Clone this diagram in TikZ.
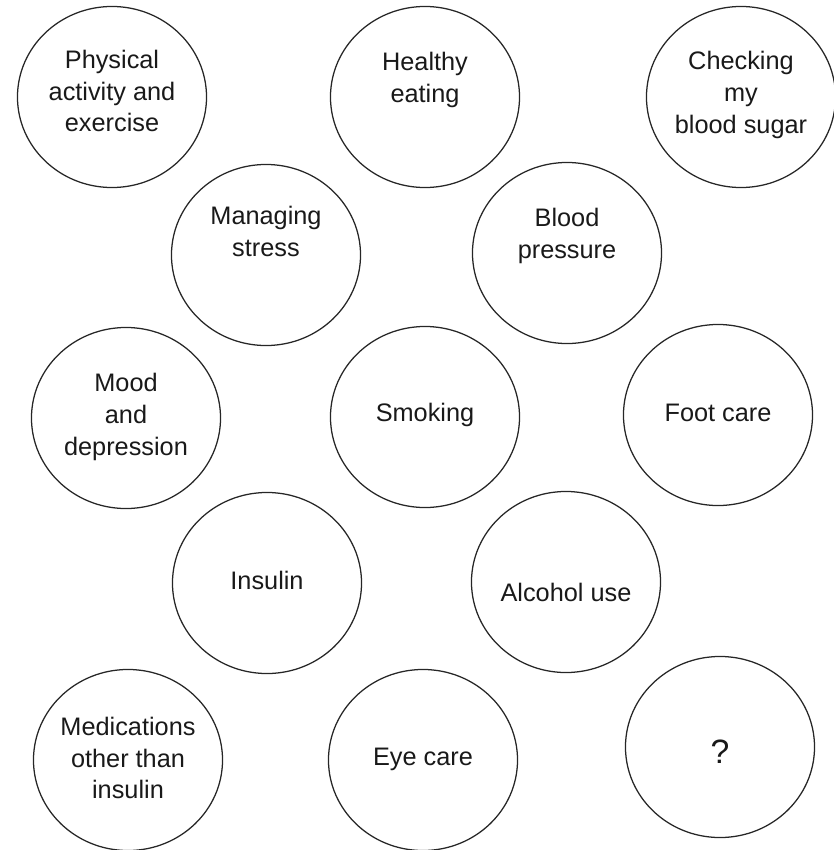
\documentclass[tikz,border=0pt]{standalone}
\usepackage{fontspec}
\setmainfont{Liberation Sans}
\usetikzlibrary{shapes.geometric, positioning}

\begin{document}
\begin{tikzpicture}[
    x=0.025cm, y=-0.025cm,
    topic/.style={ellipse, minimum width=4.725cm, minimum height=4.525cm, draw=black!85, line width=0.9pt, inner sep=0pt},
    topictext/.style={align=center, text=black!90, font=\fontsize{18}{22.7}\selectfont}
]
    \useasboundingbox (0,0) rectangle (834,850);

    % Row 1
    \node[topic] (activity) at (112, 97) {};
    \node[topictext] (activity_t) at (112, 91) {Physical\\activity and\\exercise};
    \node[topic] (eating) at (425, 97) {};
    \node[topictext] (eating_t) at (425, 80) {Healthy\\eating};
    \node[topic] (sugar) at (741, 97) {};
    \node[topictext] (sugar_t) at (741, 95) {Checking\\my\\blood sugar};

    % Row 2
    \node[topic] (stress) at (266, 255) {};
    \node[topictext] (stress_t) at (266, 231) {Managing\\stress};
    \node[topic] (pressure) at (567, 253) {};
    \node[topictext] (pressure_t) at (567, 236) {Blood\\pressure};

    % Row 3
    \node[topic] (mood) at (126, 418) {};
    \node[topictext] (mood_t) at (126, 417) {Mood\\and\\depression};
    \node[topic] (smoking) at (425, 417) {};
    \node[topictext] (smoking_t) at (425, 415) {Smoking};
    \node[topic] (foot) at (718, 415) {};
    \node[topictext] (foot_t) at (718, 413) {Foot care};

    % Row 4
    \node[topic] (insulin) at (267, 583) {};
    \node[topictext] (insulin_t) at (267, 580) {Insulin};
    \node[topic] (alcohol) at (566, 582) {};
    \node[topictext] (alcohol_t) at (566, 592) {Alcohol use};

    % Row 5
    \node[topic] (meds) at (128, 760) {};
    \node[topictext] (meds_t) at (128, 758) {Medications\\other than\\insulin};
    \node[topic] (eye) at (423, 760) {};
    \node[topictext] (eye_t) at (423, 759) {Eye care};
    \node[topic] (other) at (720, 747) {};
    \node[topictext, font=\fontsize{24}{28}\selectfont] (other_t) at (720, 752) {?};

\end{tikzpicture}
\end{document}
